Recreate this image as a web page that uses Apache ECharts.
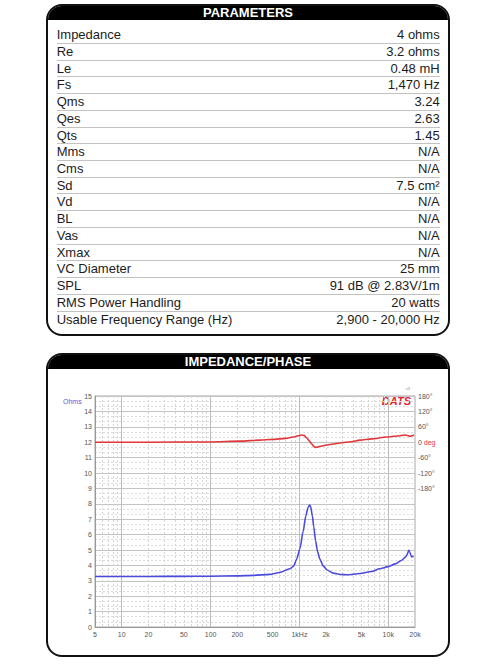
<!DOCTYPE html>
<html><head><meta charset="utf-8">
<script src="https://cdn.jsdelivr.net/npm/echarts@6.0.0/dist/echarts.min.js"></script>
<style>
html,body{margin:0;padding:0;background:#fff;width:496px;height:664px;overflow:hidden;font-family:"Liberation Sans",Arial,sans-serif;}
.panel{position:absolute;left:46px;width:404px;box-sizing:border-box;border:2px solid #111;border-radius:16px;overflow:hidden;background:#fff;}
#p1{top:4px;height:332px;}
#p2{top:353px;height:304px;}
.hdr{background:#000;color:#fff;font-weight:bold;font-size:13px;height:14px;line-height:13px;text-align:center;}
#rows{position:absolute;left:8.7px;top:21.3px;width:383px;}
.row{height:16.72px;box-sizing:border-box;border-bottom:1.5px solid #c2c2c2;font-size:13px;line-height:16px;color:#1c1c1c;display:flex;justify-content:space-between;}
.row:last-child{border-bottom:none;}
#chart{position:absolute;left:0;top:0;width:496px;height:664px;z-index:2;}
</style></head>
<body>
<div class="panel" id="p1"><div class="hdr">PARAMETERS</div><div id="rows"></div></div>
<div class="panel" id="p2"><div class="hdr">IMPEDANCE/PHASE</div></div>
<div id="chart"></div>
<script>
// ---- Parameter table ----
const paramNames = ["Impedance","Re","Le","Fs","Qms","Qes","Qts","Mms","Cms","Sd","Vd","BL","Vas","Xmax","VC Diameter","SPL","RMS Power Handling","Usable Frequency Range (Hz)"];
const paramValues = ["4 ohms","3.2 ohms","0.48 mH","1,470 Hz","3.24","2.63","1.45","N/A","N/A","7.5 cm²","N/A","N/A","N/A","N/A","25 mm","91 dB @ 2.83V/1m","20 watts","2,900 - 20,000 Hz"];

// ---- Impedance curve (Hz, ohms) ----
const impFreq = [5,10,20,50,100,200,300,460,600,780,860,930,1015,1100,1180,1250,1300,1340,1400,1450,1520,1600,1700,1860,2050,2400,2900,3400,4800,6500,8000,10000,12000,14000,15500,16300,17000,17500,18300,19300];
const impOhms = [3.28,3.28,3.28,3.29,3.3,3.32,3.35,3.42,3.54,3.78,3.95,4.4,5.1,6.2,7.2,7.78,7.92,7.8,7.2,6.5,5.6,4.9,4.4,3.95,3.7,3.5,3.41,3.39,3.47,3.6,3.78,3.92,4.1,4.32,4.52,4.7,4.98,4.85,4.55,4.62];

// ---- Phase curve (Hz, degrees) ----
const phaseFreq = [5,20,100,214,360,500,700,853,960,1060,1130,1207,1290,1374,1440,1497,1600,1706,2000,2400,2863,3800,4807,6500,9600,12500,15450,16500,17570,18500,19460];
const phaseDeg = [0,0,1,4,8,11,15,20,25,28,26,17,5,-7,-15,-20,-19,-16,-11,-7,-3,2,8,13,20,24,28,26,23,25,28];

// ---- Axis ticks ----
const xLabelTicks = [5,10,20,50,100,200,500,1000,2000,5000,10000,20000];
const xMajorGrid = [10,100,1000,10000];
const xMinorGrid = [6,7,8,9,20,30,40,50,60,70,80,90,200,300,400,500,600,700,800,900,2000,3000,4000,5000,6000,7000,8000,9000];
const phaseLabelTicks = [180,120,60,0,-60,-120,-180];

const rowsEl = document.getElementById('rows');
paramNames.forEach((n,i)=>{
  const r=document.createElement('div');r.className='row';
  const a=document.createElement('span');a.textContent=n;
  const b=document.createElement('span');b.textContent=paramValues[i];
  r.appendChild(a);r.appendChild(b);rowsEl.appendChild(r);
});

const chart = echarts.init(document.getElementById('chart'), null, {renderer:'svg'});
const fmtX = v => { v=Math.round(v); if(v===1000) return '1kHz'; if(v>=1000) return (v/1000)+'k'; return String(v); };
const lab = {fontSize:7,color:'#555',fontFamily:'Liberation Sans, Arial'};
chart.setOption({
  animation:false,
  grid:{left:95,right:81,top:396,bottom:37,show:true,borderColor:'#a8a8a8',borderWidth:1},
  xAxis:[
    {type:'log',logBase:10,min:5,max:20000,gridIndex:0,position:'bottom',
     axisLine:{show:true,lineStyle:{color:'#999'}},
     axisTick:{show:false,customValues:xMajorGrid},
     axisLabel:Object.assign({customValues:xLabelTicks,margin:4,formatter:fmtX},lab),
     splitLine:{show:true,lineStyle:{color:'#bdbdbd',width:1}}},
    {type:'log',logBase:10,min:5,max:20000,gridIndex:0,position:'bottom',
     axisLine:{show:false},axisTick:{show:false,customValues:xMinorGrid},axisLabel:{show:false},
     splitLine:{show:true,lineStyle:{color:'#d4d4d4',width:1,type:[2,2]}}}
  ],
  yAxis:[
    {type:'value',min:0,max:15,interval:1,position:'left',
     axisLine:{show:true,lineStyle:{color:'#999'}},axisTick:{show:false},
     axisLabel:Object.assign({margin:3},lab),
     splitLine:{show:true,lineStyle:{color:'#c4c4c4',width:1}},
     minorTick:{show:false,splitNumber:3},
     minorSplitLine:{show:true,lineStyle:{color:'#dcdcdc',width:1,type:[2,2]}}},
    {type:'value',min:-720,max:180,interval:60,position:'right',
     axisLine:{show:false},axisTick:{show:false},splitLine:{show:false},
     axisLabel:Object.assign({margin:3,align:'left',
       formatter:v=>{ if(v===0) return '0 {r|deg}'; return phaseLabelTicks.indexOf(v)>=0 ? v+'°' : ''; },
       rich:{r:{fontSize:7,color:'#e03a3a',fontFamily:'Liberation Sans, Arial'}}},lab)}
  ],
  graphic:[
    {type:'text',left:63,top:398,style:{text:'Ohms',fontSize:7,fill:'#5a5ae0',fontFamily:'Liberation Sans, Arial'}},
    {type:'text',x:411,y:401,style:{text:'DATS',fontSize:11,fontWeight:'bold',fontStyle:'italic',fill:'#e3262f',align:'right',verticalAlign:'middle',fontFamily:'Liberation Sans, Arial'}},
    {type:'text',x:410,y:388,style:{text:'v3',fontSize:4,fill:'#888',align:'right',verticalAlign:'middle',fontFamily:'Liberation Sans, Arial'}}
  ],
  series:[
    {name:'Impedance',type:'line',xAxisIndex:0,yAxisIndex:0,showSymbol:false,smooth:0.25,smoothMonotone:'x',
     data:impFreq.map((f,i)=>[f,impOhms[i]]),lineStyle:{color:'#4b4bdc',width:1.6},z:3},
    {name:'Phase',type:'line',xAxisIndex:0,yAxisIndex:1,showSymbol:false,smooth:0.25,smoothMonotone:'x',
     data:phaseFreq.map((f,i)=>[f,phaseDeg[i]]),lineStyle:{color:'#e0383a',width:1.6},z:3}
  ]
});
</script>
</body></html>
